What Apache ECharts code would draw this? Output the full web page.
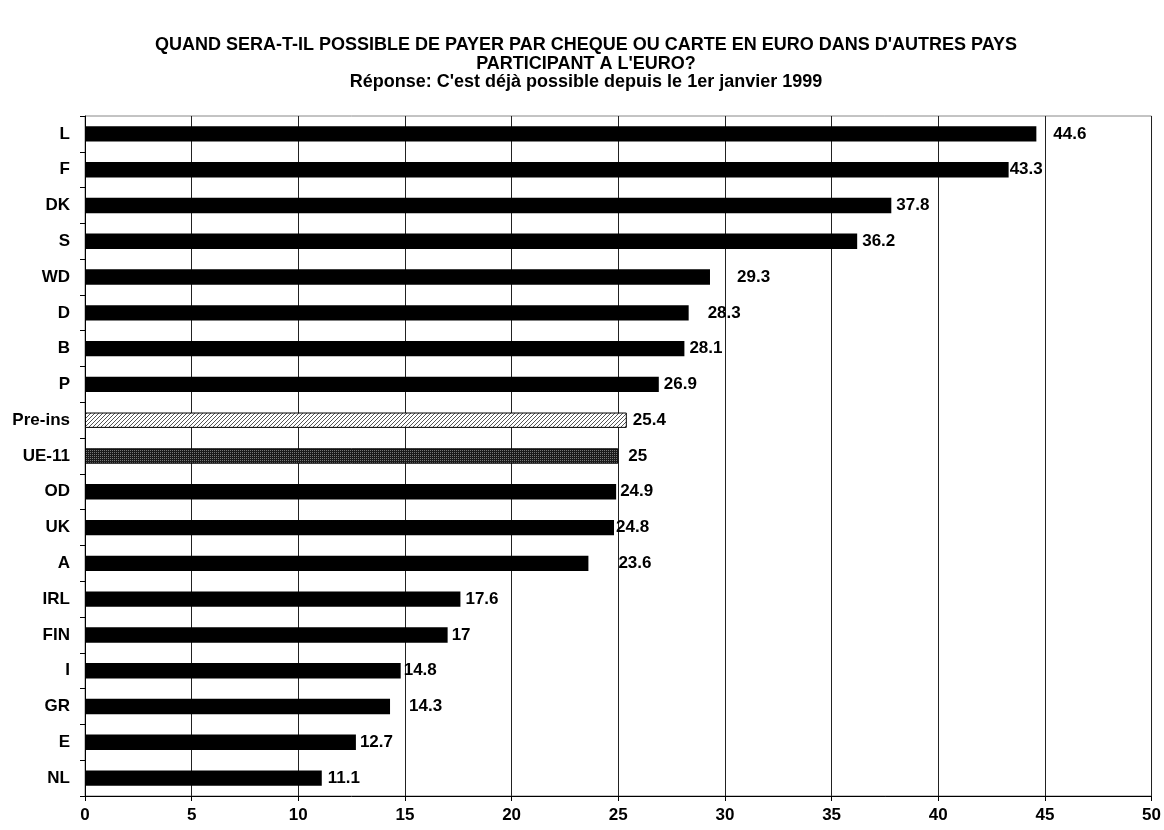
<!DOCTYPE html>
<html><head><meta charset="utf-8">
<script src="https://cdn.jsdelivr.net/npm/echarts@6/dist/echarts.min.js"></script>
<style>html,body{margin:0;padding:0;background:#fff}#c{width:1164px;height:830px}</style>
</head><body><div id="c"></div>
<script>
const categories = ['L','F','DK','S','WD','D','B','P','Pre-ins','UE-11','OD','UK','A','IRL','FIN','I','GR','E','NL'];
const values = [44.6,43.3,37.8,36.2,29.3,28.3,28.1,26.9,25.4,25,24.9,24.8,23.6,17.6,17,14.8,14.3,12.7,11.1];
const xTicks = [0,5,10,15,20,25,30,35,40,45,50];
const titleLines = ["QUAND SERA-T-IL POSSIBLE DE PAYER PAR CHEQUE OU CARTE EN EURO DANS D'AUTRES PAYS", "PARTICIPANT A L'EURO?", "Réponse: C'est déjà possible depuis le 1er janvier 1999"];
// label spacing from bar end (style, as in the original chart)
const labelGap = [17,1,5,5,27,19,5,5,6,10,4,2,30,5,4,3,19,4,6];

function hatch(){
  const c=document.createElement('canvas');c.width=4;c.height=4;
  const g=c.getContext('2d');g.fillStyle='#fff';g.fillRect(0,0,4,4);
  g.strokeStyle='#555';g.lineWidth=1;
  g.beginPath();g.moveTo(0,4);g.lineTo(4,0);g.moveTo(-1,1);g.lineTo(1,-1);g.moveTo(3,5);g.lineTo(5,3);g.stroke();
  return c;
}
function dots(){
  const c=document.createElement('canvas');c.width=2;c.height=2;
  const g=c.getContext('2d');g.fillStyle='#1a1a1a';g.fillRect(0,0,2,2);
  g.fillStyle='#777';g.fillRect(0,0,1,1);
  return c;
}
const hatchImg=hatch(), dotImg=dots();
const data = values.map((v,i)=>{
  const cat=categories[i];
  const item={value:v,label:{distance:labelGap[i]}};
  if(cat==='Pre-ins') item.itemStyle={color:{image:hatchImg,repeat:'repeat'},borderColor:'#000',borderWidth:1};
  if(cat==='UE-11') item.itemStyle={color:{image:dotImg,repeat:'repeat'},borderColor:'#000',borderWidth:1};
  return item;
});
const font='"Liberation Sans", Arial, sans-serif';
const fs=17;
const chart=echarts.init(document.getElementById('c'),null,{renderer:'canvas'});
chart.setOption({
  animation:false,
  backgroundColor:'#fff',
  title:{
    text:titleLines[0]+'\n'+titleLines[1]+'\n'+titleLines[2],
    left:581, top:31, textAlign:'center',
    textStyle:{fontFamily:font,fontWeight:'bold',fontSize:18,color:'#000',lineHeight:18.5}
  },
  grid:{left:85,right:12,top:116,bottom:34,containLabel:false,show:true,borderColor:'#888',borderWidth:1},
  xAxis:{
    type:'value',min:0,max:50,interval:5,
    axisLine:{show:true,lineStyle:{color:'#000',width:1}},
    axisTick:{show:true,length:5,lineStyle:{color:'#000'}},
    axisLabel:{fontFamily:font,fontWeight:'bold',fontSize:fs,color:'#000',margin:11,
      formatter:v=>xTicks.includes(v)?String(v):''},
    splitLine:{show:true,lineStyle:{color:'#222',width:1}}
  },
  yAxis:{
    type:'category',data:categories,inverse:true,
    axisLine:{show:true,lineStyle:{color:'#000',width:1}},
    axisTick:{show:true,length:5,lineStyle:{color:'#000'}},
    axisLabel:{fontFamily:font,fontWeight:'bold',fontSize:fs,color:'#000',margin:15},
    splitLine:{show:false}
  },
  series:[{
    type:'bar',data:data,barCategoryGap:'57%',
    itemStyle:{color:'#000',borderColor:'#000',borderWidth:0},
    label:{show:true,position:'right',distance:5,fontFamily:font,fontWeight:'bold',fontSize:fs,color:'#000'}
  }]
});
</script></body></html>
